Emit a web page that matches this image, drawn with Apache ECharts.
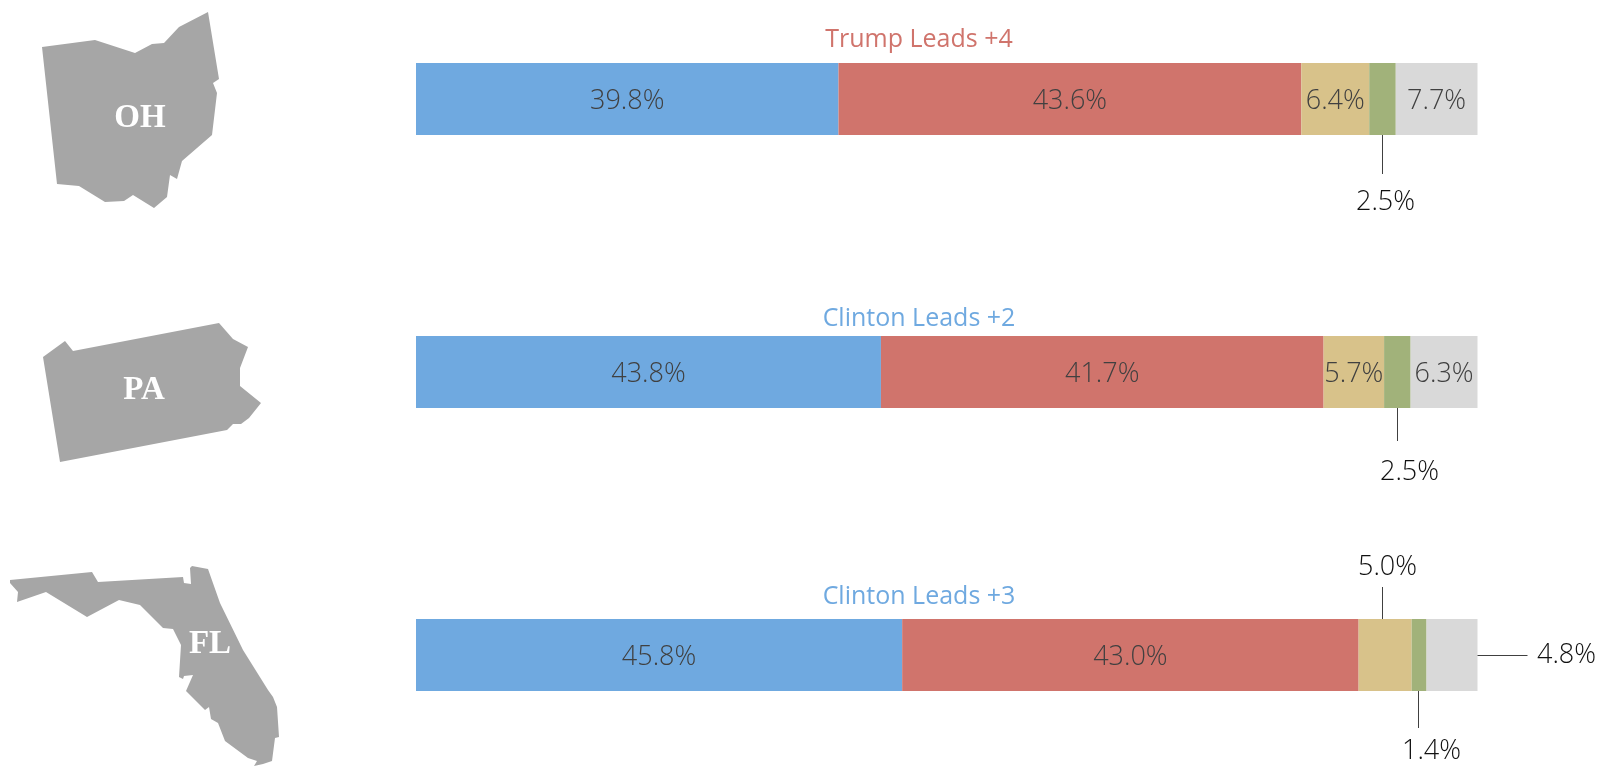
<!DOCTYPE html>
<html>
<head>
<meta charset="utf-8">
<title>State polls</title>
<script src="https://cdn.jsdelivr.net/npm/echarts@6/dist/echarts.min.js"></script>
<style>
html, body { margin: 0; padding: 0; background: #fff; }
#chart { width: 1614px; height: 778px; }
</style>
</head>
<body>
<div id="chart"></div>
<script>
const states = ['OH', 'PA', 'FL'];
const leadTitles = ['Trump Leads +4', 'Clinton Leads +2', 'Clinton Leads +3'];
const leaders = ['Trump', 'Clinton', 'Clinton'];

const segmentNames = ['Clinton', 'Trump', 'Johnson', 'Stein', 'Other'];
const clinton = [39.8, 43.8, 45.8];
const trump = [43.6, 41.7, 43.0];
const johnson = [6.4, 5.7, 5.0];
const stein = [2.5, 2.5, 1.4];
const other = [7.7, 6.3, 4.8];
const segments = [clinton, trump, johnson, stein, other];

// state outlines, page pixels
const ohOutline = [[42,47],[95,40],[135,53],[152,44],[164,43],[179,27],[208,12],[219,79],[213,83],[217,93],[212,135],[182,161],[177,179],[170,175],[167,197],[154,208],[133,195],[124,201],[105,202],[79,186],[57,184]];
const paOutline = [[43,357],[65,341],[73,351],[219,323],[233,339],[248,347],[240,368],[240,386],[261,403],[249,418],[241,424],[233,424],[227,430],[60,462]];
const flOutline = [[10,580],[92,572],[98,582],[183,577],[184,583],[191,584],[190,568],[192,566],[208,569],[220,603],[243,650],[268,690],[273,697],[277,707],[279,737],[275,738],[272,761],[263,764],[254,766],[257,761],[248,758],[225,741],[218,723],[211,719],[209,707],[205,710],[186,691],[193,675],[184,676],[183,679],[179,677],[181,645],[173,629],[163,628],[140,605],[119,600],[87,617],[46,592],[17,602],[18,592],[10,583]];
const outlines = [ohOutline, paOutline, flOutline];
const stateLabelPos = [[140, 118], [144, 390], [210, 644]];

const colors = ['#6FA9E0', '#D0746C', '#D8C28A', '#A1B27A', '#D9D9D9'];
const leaderColors = { Clinton: '#6FA9E0', Trump: '#D0746C' };
const gridTops = [63, 336, 619];
const titleY = [39, 318, 596];
const uiFont = '"Open Sans", sans-serif';

// segments whose label sits outside the bar, the rest are labelled inside
const callouts = [
   { row: 0, seg: 3, dir: 'down', len: 39, dx: 3, dy: 28 },
   { row: 1, seg: 3, dir: 'down', len: 33, dx: 12, dy: 31 },
   { row: 2, seg: 2, dir: 'up', len: 32, dx: 5, dy: -20, nudge: -3 },
   { row: 2, seg: 3, dir: 'down', len: 37, dx: 13, dy: 23, nudge: -1 },
   { row: 2, seg: 4, dir: 'right', len: 50, dx: 39, dy: 0 }
];

const isCallout = (row, seg) => callouts.some((c) => c.row === row && c.seg === seg);
const segStart = (row, seg) => {
   let sum = 0;
   for (let i = 0; i < seg; i++) sum += segments[i][row];
   return sum;
};

const grid = [], xAxis = [], yAxis = [], series = [], title = [];

states.forEach((st, row) => {
   grid.push({ left: 416, width: 1061.5, top: gridTops[row], height: 72 });
   xAxis.push({ gridIndex: row, type: 'value', min: 0, max: 100, show: false });
   yAxis.push({ gridIndex: row, type: 'category', data: [st], show: false });
   title.push({
      text: leadTitles[row],
      left: 914,
      top: titleY[row] - 17,
      textAlign: 'center',
      textStyle: { color: leaderColors[leaders[row]], fontFamily: uiFont, fontWeight: 400, fontSize: 25 }
   });
   segmentNames.forEach((name, seg) => {
      series.push({
         type: 'bar',
         name: name,
         xAxisIndex: row,
         yAxisIndex: row,
         stack: 'row' + row,
         barWidth: '100%',
         data: [segments[seg][row]],
         itemStyle: { color: colors[seg] },
         label: {
            show: !isCallout(row, seg),
            position: 'inside',
            offset: [0, 2],
            formatter: (p) => p.value.toFixed(1) + '%',
            color: '#404040',
            fontFamily: uiFont,
            fontWeight: 300,
            fontSize: 27
         }
      });
   });
   // leader lines + outside labels
   const rowCallouts = callouts.filter((c) => c.row === row);
   series.push({
      type: 'custom',
      xAxisIndex: row,
      yAxisIndex: row,
      z: 5,
      silent: true,
      data: rowCallouts.map((c) => [segStart(row, c.seg) + segments[c.seg][row] / 2, 0]),
      renderItem: (params, api) => {
         const c = rowCallouts[params.dataIndex];
         const val = segments[c.seg][row];
         const mid = api.coord([api.value(0), 0]);
         const bandH = api.size([0, 1])[1];
         let x1, y1, x2, y2;
         if (c.dir === 'right') {
            x1 = api.coord([100, 0])[0];
            y1 = Math.round(mid[1]) + 0.5;
            x2 = x1 + c.len;
            y2 = y1;
         } else {
            const sign = c.dir === 'up' ? -1 : 1;
            x1 = Math.round(mid[0] + (c.nudge || 0)) + 0.5;
            y1 = mid[1] + sign * bandH / 2;
            x2 = x1;
            y2 = y1 + sign * c.len;
         }
         return {
            type: 'group',
            children: [
               { type: 'line', shape: { x1, y1, x2, y2 }, style: { stroke: '#404040', lineWidth: 1 } },
               {
                  type: 'text',
                  style: {
                     x: x2 + c.dx,
                     y: y2 + c.dy,
                     text: val.toFixed(1) + '%',
                     align: 'center',
                     verticalAlign: 'middle',
                     fill: '#111',
                     font: '300 27px ' + uiFont
                  }
               }
            ]
         };
      }
   });
});

const graphic = [];
outlines.forEach((pts, i) => {
   graphic.push({ type: 'polygon', shape: { points: pts }, style: { fill: '#A6A6A6' } });
   graphic.push({
      type: 'text',
      x: stateLabelPos[i][0],
      y: stateLabelPos[i][1],
      z: 10,
      style: {
         text: states[i],
         align: 'center',
         verticalAlign: 'middle',
         fill: '#fff',
         font: 'bold 33px "Liberation Serif", serif'
      }
   });
});

const chart = echarts.init(document.getElementById('chart'));
chart.setOption({
   animation: false,
   backgroundColor: '#fff',
   title, grid, xAxis, yAxis, series, graphic
});
</script>
</body>
</html>
